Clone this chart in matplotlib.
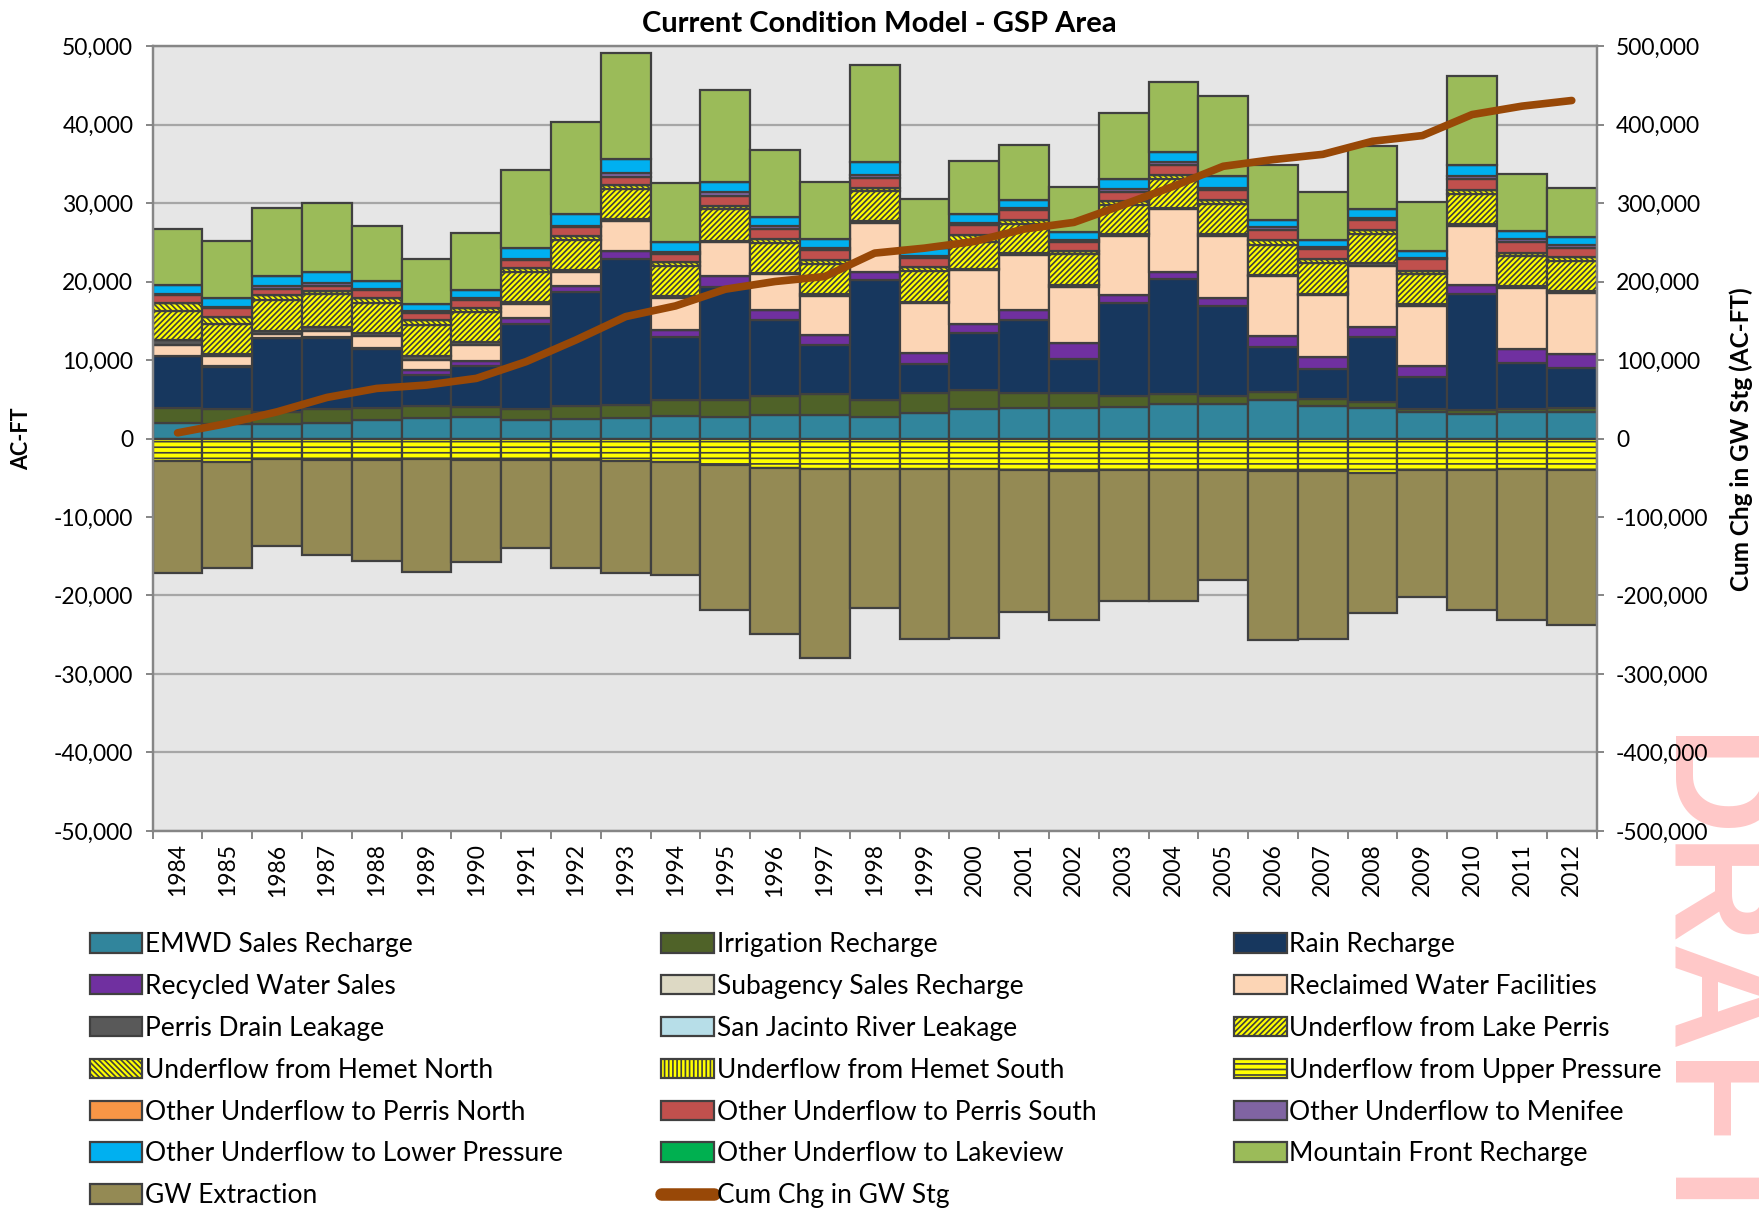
import matplotlib
matplotlib.use('Agg')
import matplotlib.pyplot as plt
from matplotlib.lines import Line2D
from matplotlib.ticker import FuncFormatter, MultipleLocator

plt.rcParams['font.family'] = ['Lato', 'DejaVu Sans']
plt.rcParams['hatch.linewidth'] = 1.2

years = list(range(1984, 2013))

# recharge terms (AF/yr), stacked upward in this order
emwd = [2000, 1900, 1800, 2000, 2350, 2550, 2750, 2400, 2450, 2550, 2850, 2750, 2950, 2950, 2750,
        3200, 3700, 3850, 3900, 3950, 4400, 4400, 4900, 4150, 3850, 3400, 3100, 3400, 3400]
irrig = [1850, 1800, 1550, 1700, 1550, 1600, 1300, 1300, 1650, 1700, 2050, 2150, 2450, 2750, 2150,
         2550, 2450, 2000, 1850, 1450, 1300, 1000, 1000, 900, 850, 400, 500, 300, 500]
rain = [6600, 5450, 9450, 9050, 7450, 4000, 5250, 10950, 14600, 18600, 8000, 14450, 9750, 6150, 15300,
        3700, 7300, 9200, 4350, 11900, 14650, 11500, 5750, 3750, 8200, 4050, 14800, 5950, 5100]
recycled = [0, 100, 0, 150, 150, 550, 600, 650, 700, 1000, 950, 1300, 1200, 1350, 950,
            1400, 1200, 1350, 2050, 1000, 900, 1050, 1350, 1600, 1350, 1350, 1150, 1700, 1750]
subagency = [0] * 29
reclaimed = [1500, 1300, 500, 800, 1550, 1300, 2050, 1850, 1750, 3800, 4050, 4350, 4550, 5000, 6300,
             6400, 6800, 7000, 7150, 7550, 7950, 7900, 7650, 7850, 7750, 7650, 7550, 7800, 7750]
drain = [550, 250, 450, 550, 350, 450, 300, 200, 300, 300, 200, 150, 200, 200, 200,
         200, 200, 200, 300, 250, 200, 200, 200, 200, 350, 250, 250, 300, 300]
sanjac = [0] * 29
lakeperris = [3800, 3750, 3950, 4150, 3850, 4050, 3850, 3850, 3850, 3850, 3900, 4050, 3850, 3850, 3850,
              3850, 3400, 3750, 3850, 3700, 3700, 3850, 3850, 3950, 3750, 3850, 3850, 3750, 3850]
hemetn = [900, 950, 600, 450, 650, 550, 500, 500, 550, 500, 500, 450, 500, 500, 450,
          550, 850, 500, 450, 450, 450, 500, 550, 450, 500, 450, 500, 450, 450]
hemets = [0] * 29
perrisn = [0] * 29
perriss = [1100, 1100, 700, 600, 1050, 1000, 1100, 1000, 1050, 1000, 1000, 1200, 1250, 1300, 1300,
           1150, 1300, 1200, 1150, 1150, 1250, 1200, 1350, 1250, 1200, 1450, 1400, 1350, 1200]
menifee = [150, 150, 400, 400, 150, 250, 150, 150, 200, 500, 200, 500, 350, 250, 350,
           200, 200, 300, 250, 400, 400, 300, 350, 350, 300, 150, 300, 400, 400]
lowerp = [1050, 1100, 1350, 1300, 1000, 850, 1100, 1400, 1550, 1800, 1300, 1350, 1200, 1150, 1650,
          1050, 1200, 1000, 950, 1200, 1300, 1550, 950, 850, 1150, 850, 1400, 1000, 950]
lakeview = [0] * 29
mountain = [7200, 7300, 8600, 8900, 7000, 5700, 7250, 9900, 11700, 13450, 7600, 11700, 8500, 7250, 12350,
            6250, 6800, 7100, 5850, 8500, 8950, 10150, 7000, 6150, 8000, 6250, 11350, 7250, 6300]

# discharge terms, stacked downward
upperp = [-2850, -3000, -2650, -2750, -2700, -2600, -2700, -2750, -2750, -2850, -3050, -3400, -3750, -3850, -3900,
          -3900, -3900, -4050, -4150, -4050, -4050, -4050, -4150, -4150, -4400, -4050, -3950, -3900, -3950]
gw = [-14300, -13500, -11050, -12100, -12900, -14450, -13050, -11150, -13750, -14300, -14350, -18500, -21150, -24100, -17650,
      -21600, -21500, -18050, -19000, -16700, -16700, -13950, -21550, -21400, -17850, -16100, -17850, -19200, -19750]

# cumulative change in storage (right axis)
cum = [7200, 19200, 34000, 52300, 63800, 68100, 76600, 97900, 125500, 155300, 168900, 190200, 200000, 206400, 236200,
       242500, 251000, 266800, 275300, 297900, 321300, 346800, 355300, 362000, 378700, 385900, 412700, 423400, 430600]

pos_series = [
    ('EMWD Sales Recharge', emwd, '#31859C', None),
    ('Irrigation Recharge', irrig, '#4F6228', None),
    ('Rain Recharge', rain, '#17375E', None),
    ('Recycled Water Sales', recycled, '#7030A0', None),
    ('Subagency Sales Recharge', subagency, '#DDD9C4', None),
    ('Reclaimed Water Facilities', reclaimed, '#FCD5B5', None),
    ('Perris Drain Leakage', drain, '#595959', None),
    ('San Jacinto River Leakage', sanjac, '#B7DEE8', None),
    ('Underflow from Lake Perris', lakeperris, '#FFFF00', '//////'),
    ('Underflow from Hemet North', hemetn, '#FFFF00', '\\\\\\\\\\\\'),
    ('Underflow from Hemet South', hemets, '#FFFF00', '||||'),
    ('Other Underflow to Perris North', perrisn, '#F79646', None),
    ('Other Underflow to Perris South', perriss, '#C0504D', None),
    ('Other Underflow to Menifee', menifee, '#8064A2', None),
    ('Other Underflow to Lower Pressure', lowerp, '#00B0F0', None),
    ('Other Underflow to Lakeview', lakeview, '#00B050', None),
    ('Mountain Front Recharge', mountain, '#9BBB59', None),
]
neg_series = [
    ('Underflow from Upper Pressure', upperp, '#FFFF00', '---'),
    ('GW Extraction', gw, '#948A54', None),
]

fig = plt.figure(figsize=(17.59, 12.08), dpi=100)
ax = fig.add_axes([0.0868, 0.3121, 0.8209, 0.6498])
ax.set_facecolor('#E6E6E6')

handles = {}
bottom = [0] * len(years)
for name, vals, color, hatch in pos_series:
    b = ax.bar(years, vals, width=1.0, bottom=bottom, color=color, edgecolor='#404040',
               linewidth=1.6, hatch=hatch, zorder=2)
    handles[name] = b
    bottom = [x + v for x, v in zip(bottom, vals)]

bottom = [0] * len(years)
for name, vals, color, hatch in neg_series:
    b = ax.bar(years, vals, width=1.0, bottom=bottom, color=color, edgecolor='#404040',
               linewidth=1.6, hatch=hatch, zorder=2)
    handles[name] = b
    bottom = [x + v for x, v in zip(bottom, vals)]

ax.set_xlim(1983.5, 2012.5)
ax.set_ylim(-50000, 50000)
ax.yaxis.set_major_locator(MultipleLocator(10000))
ax.yaxis.set_major_formatter(FuncFormatter(lambda v, p: f'{v:,.0f}'))
ax.grid(axis='y', color='#A6A6A6', linewidth=1.6)
ax.set_axisbelow(True)

ax.set_xticks(years)
ax.set_xticklabels([str(y) for y in years], rotation=90)
ax.set_xticks([y - 0.5 for y in years] + [2012.5], minor=True)
ax.tick_params(axis='x', which='major', length=0, pad=9, labelsize=16.5)
ax.tick_params(axis='x', which='minor', length=6, width=1.4, color='#868686')
ax.tick_params(axis='y', length=5, width=1.4, color='#868686', pad=9, labelsize=16.5)
for s in ax.spines.values():
    s.set_color('#868686')
    s.set_linewidth(1.6)

ax2 = ax.twinx()
ax2.plot(years, cum, color='#984807', linewidth=5.5, solid_capstyle='round',
         solid_joinstyle='round', zorder=5)
ax2.set_ylim(-500000, 500000)
ax2.yaxis.set_major_locator(MultipleLocator(100000))
ax2.yaxis.set_major_formatter(FuncFormatter(lambda v, p: f'{v:,.0f}'))
ax2.tick_params(axis='y', length=5, width=1.4, color='#868686', pad=9, labelsize=16.5)
for s in ax2.spines.values():
    s.set_color('#868686')
    s.set_linewidth(1.6)

fig.text(0.5, 0.980, 'Current Condition Model - GSP Area', ha='center', va='center',
         fontsize=21, fontweight='bold')
fig.text(0.0125, 0.6366, 'AC-FT', rotation=90, ha='center', va='center', fontsize=15.5, fontweight='bold')
fig.text(0.990, 0.6366, 'Cum Chg in GW Stg (AC-FT)', rotation=90, ha='center', va='center',
         fontsize=17.5, fontweight='bold')

handles['Cum Chg in GW Stg'] = Line2D([], [], color='#984807', linewidth=9, solid_capstyle='round')

col1 = ['EMWD Sales Recharge', 'Recycled Water Sales', 'Perris Drain Leakage', 'Underflow from Hemet North',
        'Other Underflow to Perris North', 'Other Underflow to Lower Pressure', 'GW Extraction']
col2 = ['Irrigation Recharge', 'Subagency Sales Recharge', 'San Jacinto River Leakage',
        'Underflow from Hemet South', 'Other Underflow to Perris South', 'Other Underflow to Lakeview',
        'Cum Chg in GW Stg']
col3 = ['Rain Recharge', 'Reclaimed Water Facilities', 'Underflow from Lake Perris',
        'Underflow from Upper Pressure', 'Other Underflow to Menifee', 'Mountain Front Recharge']

for col, x in [(col1, 0.051), (col2, 0.376), (col3, 0.7015)]:
    fig.legend([handles[n] for n in col], col, loc='upper left', bbox_to_anchor=(x, 0.2285),
               frameon=False, fontsize=19, handlelength=2.0, handleheight=0.76, handletextpad=0.1,
               labelspacing=0.64, borderpad=0, borderaxespad=0)

# watermark, partly off the right edge
fig.text(0.9466, 0.3916, 'DRAFT', rotation=-90, rotation_mode='anchor', ha='left', va='baseline',
         fontsize=108, fontweight='bold', family='Liberation Sans', color='#FFC8C8', zorder=-1)

fig.savefig('out.png', dpi=100)
